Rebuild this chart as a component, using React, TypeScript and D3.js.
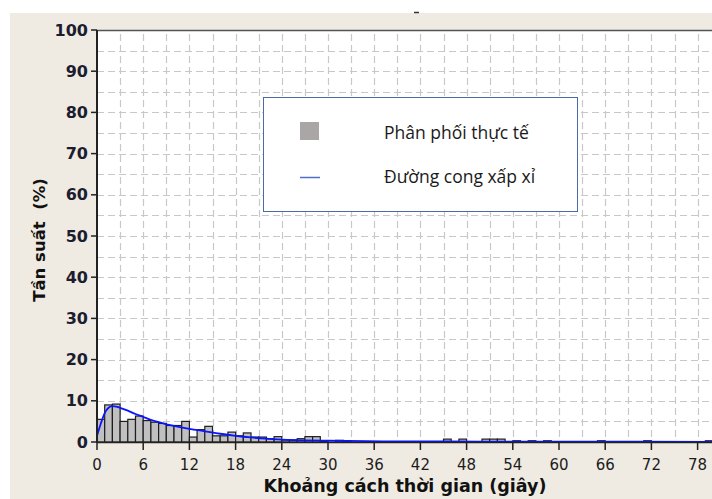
import React from 'react';
import * as d3 from 'd3';

// histogram: 1-second bins, frequency in %
const binStarts: number[] = d3.range(0, 80);
const binFreq: number[] = [
  5.5, 9, 9.2, 5, 5.5, 6.3, 5.2, 4.8, 4.5, 4,
  4, 5, 1.2, 3, 3.8, 1.5, 1.5, 2.4, 1.5, 2.2,
  1.2, 1.2, 0.8, 1.3, 0.5, 0.5, 0.8, 1.3, 1.3, 0.3,
  0, 0.4, 0.2, 0, 0, 0, 0, 0, 0, 0,
  0, 0, 0, 0, 0, 0.7, 0, 0.7, 0, 0,
  0.7, 0.7, 0.7, 0, 0.3, 0, 0.3, 0, 0.3, 0,
  0, 0, 0, 0, 0, 0.3, 0, 0, 0, 0,
  0, 0.3, 0, 0, 0, 0, 0, 0, 0, 0.3,
];

// fitted curve
const curveX: number[] = [0, 0.5, 1, 1.5, 2, 2.5, 3, 4, 5, 6, 7, 8, 9, 10, 12, 14, 16, 18, 20, 22, 24, 27, 30, 35, 40, 50, 60, 80];
const curveY: number[] = [1.5, 4.5, 7, 8.3, 8.7, 8.6, 8.3, 7.6, 6.8, 6.1, 5.4, 4.8, 4.3, 3.9, 3.2, 2.6, 2, 1.5, 1.1, 0.8, 0.6, 0.4, 0.3, 0.2, 0.15, 0.1, 0.08, 0.05];

const xTicks: number[] = d3.range(0, 79, 6);
const yTicks: number[] = d3.range(0, 101, 10);
const xGrid: number[] = d3.range(3, 81, 3);
const yGrid: number[] = d3.range(5, 100, 5);

const legendLabels: string[] = ['Phân phối thực tế', 'Đường cong xấp xỉ'];

const W = 712;
const H = 499;
const left = 97;
const top = 30;
const bottom = 442;

export default function App() {
  const x = d3.scaleLinear().domain([0, 80]).range([left, left + 80 * 7.7]);
  const y = d3.scaleLinear().domain([0, 100]).range([bottom, top]);

  const line = d3.line<number>()
    .x((_, i) => x(curveX[i]))
    .y(d => y(d))
    .curve(d3.curveMonotoneX);

  const font = '"DejaVu Sans", sans-serif';

  return (
    <div style={{ position: 'absolute', left: 0, top: 0 }}>
      <svg width={W} height={H} style={{ display: 'block' }}>
        <rect x={0} y={0} width={W} height={H} fill="#ffffff" />
        <rect x={10} y={13} width={W - 10} height={H - 13} fill="#efebe2" />
        <line x1={414} x2={419} y1={12.5} y2={12.5} stroke="#333" strokeWidth={1.5} />

        {/* plot area */}
        <rect x={left} y={top} width={W - left} height={bottom - top} fill="#ffffff" />

        {/* grid */}
        <g stroke="#c8c8c8" strokeWidth={1.2} strokeDasharray="7,4">
          {yGrid.map(v => (
            <line key={'h' + v} x1={left} x2={W} y1={Math.round(y(v)) + 0.5} y2={Math.round(y(v)) + 0.5} />
          ))}
          {xGrid.map(v => (
            <line key={'v' + v} x1={Math.round(x(v)) + 0.5} x2={Math.round(x(v)) + 0.5} y1={top + 4} y2={bottom} />
          ))}
        </g>

        {/* histogram */}
        <g>
          {binStarts.map((b, i) => binFreq[i] > 0 ? (
            <rect
              key={'b' + b}
              x={x(b)}
              y={y(binFreq[i])}
              width={x(b + 1) - x(b)}
              height={bottom - y(binFreq[i])}
              fill="#c0c0c0"
              stroke="#1e1e1e"
              strokeWidth={1.2}
            />
          ) : null)}
        </g>

        {/* curve */}
        <path d={line(curveY) || ''} fill="none" stroke="#0a14ff" strokeWidth={1.8} />

        {/* axes */}
        <line x1={left} x2={W} y1={top + 0.5} y2={top + 0.5} stroke="#555" strokeWidth={1.5} />
        <line x1={left} x2={W} y1={bottom + 0.5} y2={bottom + 0.5} stroke="#222" strokeWidth={1.5} />
        <line x1={left} x2={left} y1={top} y2={bottom + 1} stroke="#222" strokeWidth={2} />

        {yTicks.map(v => (
          <g key={'yt' + v}>
            <line x1={left - 6} x2={left} y1={y(v)} y2={y(v)} stroke="#222" strokeWidth={1.5} />
            <text x={left - 9} y={y(v) + 5.5} textAnchor="end" fontFamily={font} fontWeight="bold" fontSize={16} fill="#1c1c30">{v}</text>
          </g>
        ))}
        {xTicks.map(v => (
          <g key={'xt' + v}>
            <line x1={x(v)} x2={x(v)} y1={bottom} y2={bottom + 8} stroke="#222" strokeWidth={1.5} />
            <text x={x(v)} y={bottom + 28} textAnchor="middle" fontFamily={font} fontSize={15} fill="#1c1c1c">{v}</text>
          </g>
        ))}

        <text x={405} y={492} textAnchor="middle" fontFamily={font} fontWeight="bold" fontSize={17.5} fill="#111">Khoảng cách thời gian (giây)</text>
        <text transform={`translate(45,${240}) rotate(-90)`} textAnchor="middle" fontFamily={font} fontWeight="bold" fontSize={16.5} fill="#111">{'Tần suất\u00a0\u00a0(%)'}</text>

        {/* legend */}
        <rect x={263.5} y={97.5} width={314} height={114} fill="#ffffff" stroke="#4a6aa8" strokeWidth={1} />
        <rect x={300} y={122} width={19} height={18} fill="#aaa6a6" />
        <line x1={300} x2={320} y1={177.5} y2={177.5} stroke="#4a70c8" strokeWidth={1.5} />
        {legendLabels.map((t, i) => (
          <text key={t} x={384} y={139 + i * 44} fontFamily='"Open Sans", sans-serif' fontSize={17.5} fill="#1a1a1a">{t}</text>
        ))}
      </svg>
    </div>
  );
}
